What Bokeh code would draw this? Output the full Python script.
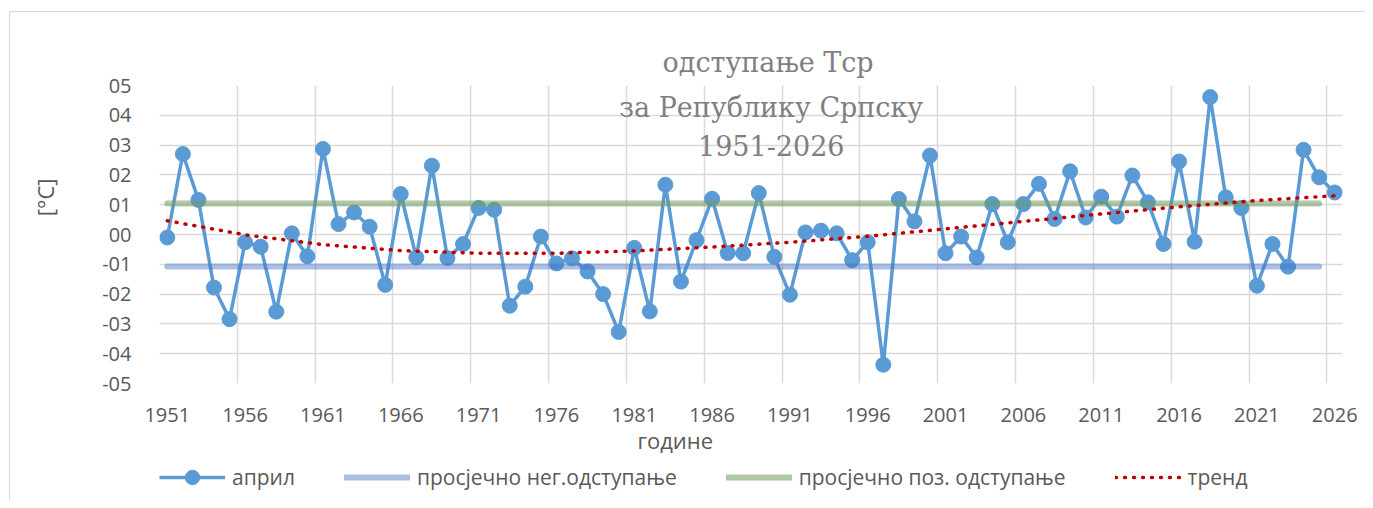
from bokeh.plotting import figure
from bokeh.layouts import column
from bokeh.models import FixedTicker, Label, Legend, LegendItem, Range1d, Title
from bokeh.embed import file_html
from bokeh.resources import INLINE

# ---------------- data ----------------
years = list(range(1951, 2027))
april = [-0.10, 2.70, 1.16, -1.78, -2.84, -0.26, -0.41, -2.59, 0.04, -0.73,
         2.87, 0.35, 0.74, 0.26, -1.69, 1.36, -0.77, 2.31, -0.79, -0.32,
         0.89, 0.83, -2.39, -1.75, -0.07, -0.97, -0.80, -1.24, -2.00, -3.27,
         -0.45, -2.58, 1.67, -1.58, -0.19, 1.20, -0.62, -0.63, 1.39, -0.75,
         -2.02, 0.07, 0.13, 0.04, -0.86, -0.26, -4.37, 1.19, 0.44, 2.65,
         -0.63, -0.07, -0.77, 1.02, -0.26, 1.02, 1.70, 0.52, 2.12, 0.57,
         1.27, 0.60, 1.98, 1.08, -0.32, 2.45, -0.24, 4.61, 1.25, 0.89,
         -1.72, -0.32, -1.08, 2.84, 1.92, 1.41]
ref_years = list(range(1951, 2026))
neg_avg = -1.07
pos_avg = 1.04
trend_years = [1951, 1956, 1961, 1966, 1971, 1976, 1981, 1986,
               1991, 1996, 2001, 2006, 2011, 2016, 2021, 2026]
trend = [0.46, -0.01, -0.34, -0.54, -0.63, -0.63, -0.55, -0.42,
         -0.26, -0.06, 0.19, 0.44, 0.69, 0.93, 1.14, 1.30]
x_tick_years = list(range(1951, 2027, 5))
x_tick_labels = [str(y) for y in x_tick_years]
y_ticks = [-5, -4, -3, -2, -1, 0, 1, 2, 3, 4, 5]
y_tick_labels = ["-05", "-04", "-03", "-02", "-01", "00", "01", "02", "03", "04", "05"]
title_lines = ["одступање Тср", "за Републику Српску", "1951-2026"]
x_title = "године"
y_title = "[°C]"
series_names = ["април", "просјечно нег.одступање", "просјечно поз. одступање", "тренд"]

# ---------------- styles ----------------
FONT = "Open Sans"
TXT = "#595959"
BLUE = "#5B9BD5"
NEG = dict(line_color="#4472C4", line_alpha=0.45, line_width=6, line_cap="round")
POS = dict(line_color="#6F9A5E", line_alpha=0.55, line_width=6, line_cap="round")
TRD = dict(line_color="#C00000", line_width=3.5, line_dash="1 8", line_cap="round")

# ---------------- main chart ----------------
p = figure(width=1355, height=448, output_backend="svg", toolbar_location=None,
           x_range=Range1d(years[0] - 0.5, years[-1] + 0.5),
           y_range=Range1d(y_ticks[0], y_ticks[-1]),
           min_border_left=149, min_border_right=23,
           min_border_top=73, min_border_bottom=77)
p.outline_line_color = None
p.background_fill_color = "white"
p.border_fill_color = "white"

p.xgrid.ticker = FixedTicker(ticks=[y - 0.5 for y in x_tick_years])
p.ygrid.ticker = FixedTicker(ticks=y_ticks)
for g in (p.xgrid, p.ygrid):
    g.grid_line_color = "#d9d9d9"
    g.grid_line_width = 1.5

p.xaxis.ticker = FixedTicker(ticks=x_tick_years)
p.xaxis.major_label_overrides = dict(zip(x_tick_years, x_tick_labels))
p.yaxis.ticker = FixedTicker(ticks=y_ticks)
p.yaxis.major_label_overrides = dict(zip(y_ticks, y_tick_labels))
for ax in (p.xaxis, p.yaxis):
    ax.axis_line_color = None
    ax.major_tick_line_color = None
    ax.minor_tick_line_color = None
    ax.major_label_text_font = FONT
    ax.major_label_text_font_size = "20px"
    ax.major_label_text_color = TXT
p.xaxis.major_label_standoff = 18
p.yaxis.major_label_standoff = 22
# y-axis title, shifted up with leading no-break spaces as in the reference
p.yaxis.axis_label = "\u00a0" * 13 + y_title
p.yaxis.axis_label_text_font = FONT
p.yaxis.axis_label_text_font_size = "22px"
p.yaxis.axis_label_text_font_style = "normal"
p.yaxis.axis_label_text_color = TXT
p.yaxis.axis_label_standoff = 39

p.line(years, april, line_color=BLUE, line_width=3.5)
p.scatter(years, april, size=15, fill_color=BLUE, line_color=BLUE)
p.line(ref_years, [neg_avg] * len(ref_years), **NEG)
p.line(ref_years, [pos_avg] * len(ref_years), **POS)
p.line(trend_years, trend, **TRD)

p.add_layout(Title(text=title_lines[0], align="left", offset=503,
                   vertical_align="bottom", standoff=16,
                   text_font="DejaVu Serif", text_font_size="27px",
                   text_font_style="normal", text_color="#7f7f7f"), "above")
for t, ty in zip(title_lines[1:], [4.25, 3.0]):
    p.add_layout(Label(x=1989.8, y=ty, text=t, text_align="center",
                       text_baseline="alphabetic", text_font="DejaVu Serif",
                       text_font_size="27px", text_color="#7f7f7f"))

p.add_layout(Title(text=x_title, align="left", offset=478, vertical_align="top",
                   standoff=0, text_font=FONT, text_font_size="22px",
                   text_font_style="normal", text_color=TXT), "below")

# ---------------- legend strip ----------------
lg = figure(width=1355, height=40, output_backend="svg", toolbar_location=None,
            x_range=Range1d(0, 1), y_range=Range1d(0, 1), min_border=0)
lg.axis.visible = False
lg.grid.visible = False
lg.outline_line_color = None
nan = [float("nan")]
l1 = lg.line(nan, nan, line_color=BLUE, line_width=3.5)
l2 = lg.scatter(nan, nan, size=15, fill_color=BLUE, line_color=BLUE)
l3 = lg.line(nan, nan, **NEG)
l4 = lg.line(nan, nan, **POS)
l5 = lg.line(nan, nan, **TRD)
legend = Legend(items=[
    LegendItem(label=series_names[0], renderers=[l1, l2]),
    LegendItem(label=series_names[1], renderers=[l3]),
    LegendItem(label=series_names[2], renderers=[l4]),
    LegendItem(label=series_names[3], renderers=[l5]),
], orientation="horizontal", location=(0, 5), glyph_width=66, glyph_height=36,
    label_standoff=7, spacing=49, padding=0, margin=0,
    border_line_color=None, background_fill_alpha=0,
    label_text_font=FONT, label_text_font_size="21px", label_text_color=TXT)
lg.add_layout(legend)

layout = column(p, lg, spacing=0,
                styles={"margin-left": "9px", "margin-top": "11px",
                        "border-left": "1px solid #d9d9d9",
                        "border-top": "1px solid #d9d9d9"})
open("out.html", "w").write(file_html(layout, INLINE))
